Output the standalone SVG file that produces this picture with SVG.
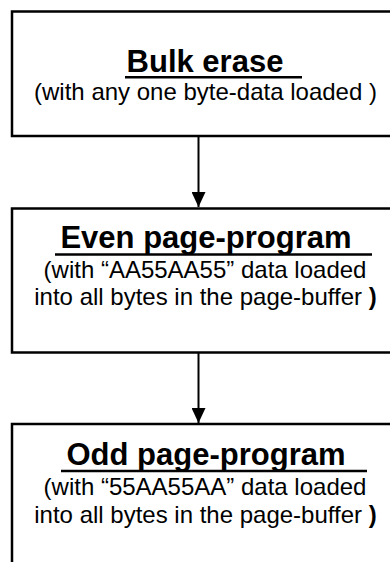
<svg xmlns="http://www.w3.org/2000/svg" width="390" height="562" viewBox="0 0 390 562">
  <style>
    .box { fill: #fff; stroke: #000; stroke-width: 2.5; }
    .title { font-family: "Liberation Sans", Arial, sans-serif; font-weight: bold; font-size: 31px; fill: #000; text-anchor: middle; }
    .sub { font-family: "Liberation Sans", Arial, sans-serif; font-size: 24px; fill: #000; text-anchor: middle; }
    .ul { stroke: #000; stroke-width: 2.6; }
    .conn { stroke: #000; stroke-width: 2; fill: none; }
  </style>
  <defs>
    <!-- arrowhead drawn along +x so orient="auto" turns it with the path -->
    <marker id="arrow" viewBox="0 0 15 14" refX="15" refY="7" markerWidth="15" markerHeight="14" markerUnits="userSpaceOnUse" orient="auto">
      <path d="M0,0 L15,7 L0,14 Z" fill="#000"/>
    </marker>
  </defs>
  <rect width="390" height="562" fill="#fff"/>

  <g id="bulk-erase">
    <rect class="box" x="12" y="11.5" width="400" height="124.5"/>
    <text class="title" x="205" y="72">Bulk erase</text>
    <line class="ul" x1="125" y1="77.3" x2="302" y2="77.3"/>
    <text class="sub" x="205.5" y="100">(with any one byte-data loaded )</text>
  </g>

  <g id="even-page-program">
    <rect class="box" x="12" y="208.5" width="400" height="144"/>
    <text class="title" x="206" y="248">Even page-program</text>
    <line class="ul" x1="55" y1="254.5" x2="372" y2="254.5"/>
    <text class="sub" x="205" y="278">(with “AA55AA55” data loaded</text>
    <text class="sub" x="205.5" y="305">into all bytes in the page-buffer <tspan font-weight="bold">)</tspan></text>
  </g>

  <g id="odd-page-program">
    <rect class="box" x="12" y="424" width="400" height="200"/>
    <text class="title" x="206" y="465">Odd page-program</text>
    <line class="ul" x1="61" y1="471" x2="367" y2="471"/>
    <text class="sub" x="205" y="495">(with “55AA55AA” data loaded</text>
    <text class="sub" x="205.5" y="523">into all bytes in the page-buffer <tspan font-weight="bold">)</tspan></text>
  </g>

  <g id="connectors">
    <path class="conn" d="M198.5,136 V207" marker-end="url(#arrow)"/>
    <path class="conn" d="M198.5,352.5 V423" marker-end="url(#arrow)"/>
  </g>
</svg>
